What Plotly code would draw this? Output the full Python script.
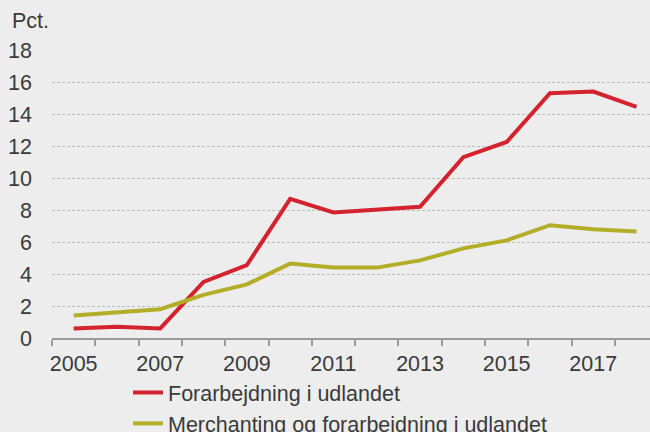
import plotly.graph_objects as go

years = list(range(2005, 2019))
forarbejdning = [0.6, 0.7, 0.6, 3.5, 4.55, 8.7, 7.85, 8.05, 8.2, 11.3, 12.25, 15.3, 15.4, 14.45]
merchanting = [1.4, 1.6, 1.8, 2.7, 3.35, 4.65, 4.4, 4.4, 4.85, 5.6, 6.1, 7.05, 6.8, 6.65]
x_tick_vals = [2005, 2007, 2009, 2011, 2013, 2015, 2017]
x_tick_text = ["2005", "2007", "2009", "2011", "2013", "2015", "2017"]
y_ticks = [0, 2, 4, 6, 8, 10, 12, 14, 16, 18]

red = "#d4222e"
olive = "#b3ae27"
bg = "#ededed"
txt = "#3a3a3a"
font_family = "Liberation Sans, Arial, sans-serif"
fs = 21.5

fig = go.Figure()
fig.add_trace(go.Scatter(x=years, y=forarbejdning, mode="lines",
                         name="Forarbejdning i udlandet",
                         line=dict(color=red, width=4)))
fig.add_trace(go.Scatter(x=years, y=merchanting, mode="lines",
                         name="Merchanting og forarbejdning i udlandet",
                         line=dict(color=olive, width=4)))

fig.update_layout(
    width=650, height=432,
    paper_bgcolor=bg, plot_bgcolor=bg,
    margin=dict(l=52, r=0, t=50, b=94, autoexpand=False),
    font=dict(family=font_family, size=fs, color=txt),
    showlegend=True,
    legend=dict(x=(128 - 52) / 598, xanchor="left", y=(338 - 372) / 288, yanchor="top",
                bgcolor="rgba(0,0,0,0)", font=dict(size=fs, color=txt),
                tracegroupgap=0, itemwidth=30),
    xaxis=dict(range=[2004.5, 2004.5 + 598 / 43.3], tickvals=x_tick_vals, ticktext=x_tick_text,
               ticks="", showgrid=False, zeroline=False, ticklabelstandoff=5,
               showline=True, linecolor="#9a9a9a", linewidth=1.5,
               minor=dict(tickvals=[y - 0.5 for y in years] + [2018.5], ticks="outside",
                          ticklen=6, tickcolor="#9a9a9a", tickwidth=1.5, showgrid=False),
               tickfont=dict(size=fs, color=txt)),
    yaxis=dict(range=[0, 18], tickvals=y_ticks, ticks="", showgrid=True,
               gridcolor="#bdbdbd", gridwidth=1, griddash="3px,2px",
               zeroline=False, showline=False, ticklabelstandoff=19,
               tickfont=dict(size=fs, color=txt)),
    annotations=[dict(text="Pct.", xref="paper", yref="paper",
                      x=(10 - 52) / 598, y=(338 - 21) / 288, xanchor="left", yanchor="middle",
                      showarrow=False, font=dict(size=fs, color=txt))],
)

fig.write_html("out.html", config={"displayModeBar": False},
               post_script="document.body.style.margin='0';document.body.style.overflow='hidden';")
